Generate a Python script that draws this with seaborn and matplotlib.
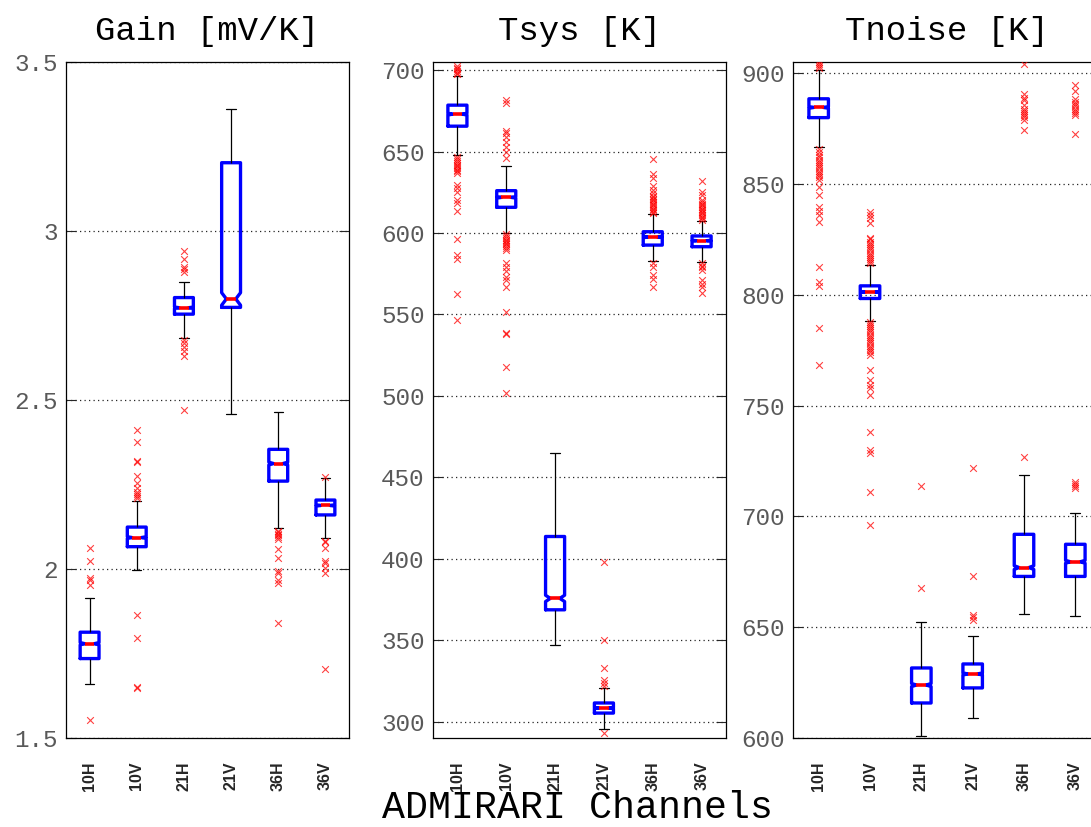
import numpy as np
import pandas as pd
import matplotlib
matplotlib.use("Agg")
import matplotlib.pyplot as plt
import seaborn as sns

channels = ["10H", "10V", "21H", "21V", "36H", "36V"]

# ---- Gain [mV/K] ----
gain_low = [1.661, 1.997, 2.682, 2.458, 2.122, 2.091]
gain_q1 = [1.735, 2.066, 2.754, 2.774, 2.260, 2.160]
gain_med = [1.779, 2.093, 2.773, 2.799, 2.312, 2.188]
gain_q3 = [1.813, 2.124, 2.803, 3.202, 2.354, 2.204]
gain_high = [1.914, 2.202, 2.850, 3.362, 2.464, 2.270]
gain_outliers = {
    "10H": [2.062, 2.023, 1.972, 1.968, 1.952, 1.552],
    "10V": [2.412, 2.375, 2.320, 2.316, 2.275, 2.253, 2.239, 2.229, 2.222,
            2.217, 2.209, 1.863, 1.795, 1.652, 1.649],
    "21H": [2.942, 2.916, 2.894, 2.888, 2.879, 2.678, 2.668, 2.658, 2.646,
            2.630, 2.470],
    "21V": [],
    "36H": [2.112, 2.108, 2.104, 2.100, 2.096, 2.090, 2.059, 2.033, 1.995,
            1.987, 1.967, 1.960, 1.839],
    "36V": [2.273, 2.084, 2.080, 2.061, 2.023, 2.017, 2.002, 1.989, 1.703],
}

# ---- Tsys [K] ----
tsys_low = [647.7, 600.2, 347.2, 295.7, 582.6, 582.0]
tsys_q1 = [665.6, 615.8, 368.7, 305.3, 592.6, 591.6]
tsys_med = [673.0, 621.9, 375.7, 308.4, 597.5, 595.3]
tsys_q3 = [678.5, 626.0, 413.7, 311.5, 600.8, 598.2]
tsys_high = [696.5, 641.1, 465.2, 320.9, 611.5, 607.4]
tsys_outliers = {
    "10H": [702.5, 701.5, 700.5, 699.5, 698.5, 697.5, 646.8, 645.5, 644.0,
            643.0, 642.0, 641.0, 640.0, 639.0, 638.0, 636.6, 629.4, 627.4,
            625.3, 620.2, 618.6, 613.7, 596.1, 586.5, 583.9, 562.4, 546.4],
    "10V": [681.6, 679.6, 662.8, 661.5, 659.1, 656.0, 653.0, 649.9, 645.8,
            599.5, 598.0, 597.0, 596.0, 595.0, 594.0, 593.0, 592.0, 591.0,
            589.6, 581.4, 579.3, 576.9, 573.2, 571.2, 567.1, 551.3, 538.8,
            537.8, 517.6, 501.6],
    "21H": [],
    "21V": [398.0, 350.3, 332.9, 325.8, 323.7, 322.1, 293.2],
    "36H": [645.2, 636.2, 633.6, 628.8, 626.4, 624.4, 623.0, 622.0, 621.0,
            620.0, 619.0, 618.0, 617.0, 616.0, 615.0, 614.0, 613.0, 612.1,
            581.4, 579.3, 574.0, 571.6, 566.7],
    "36V": [632.1, 625.3, 623.3, 620.2, 619.0, 618.0, 617.0, 616.0, 615.0,
            614.0, 613.0, 612.0, 611.0, 610.0, 609.0, 608.0, 581.4, 580.0,
            579.0, 577.3, 571.2, 568.7, 566.7, 563.0],
}

# ---- Tnoise [K] ----
tnoise_low = [866.7, 788.2, 600.8, 609.0, 655.9, 655.0]
tnoise_q1 = [879.9, 798.3, 615.8, 622.6, 672.9, 672.9]
tnoise_med = [884.5, 801.2, 623.9, 628.9, 676.9, 679.5]
tnoise_q3 = [888.4, 804.0, 631.6, 633.4, 691.9, 687.4]
tnoise_high = [901.2, 813.6, 652.4, 645.8, 718.7, 701.7]
tnoise_outliers = {
    "10H": [905.0, 904.0, 903.0, 902.3, 865.9, 864.5, 863.0, 862.0, 861.0,
            860.0, 859.0, 858.0, 857.0, 856.0, 855.0, 854.0, 853.1, 851.6,
            848.6, 844.9, 839.6, 837.8, 835.9, 832.8, 812.6, 805.8, 804.0,
            784.8, 768.3],
    "10V": [837.3, 835.9, 834.4, 832.4, 825.8, 825.0, 824.0, 823.0, 822.0,
            821.0, 820.0, 819.0, 818.0, 817.0, 816.0, 815.0, 814.1, 787.8,
            787.0, 786.0, 785.0, 784.0, 783.0, 782.0, 781.0, 780.0, 779.0,
            778.0, 777.0, 776.0, 775.0, 774.0, 772.8, 766.0, 761.5, 759.3,
            757.7, 754.7, 738.2, 730.0, 728.5, 710.9, 696.2],
    "21H": [713.9, 667.5],
    "21V": [721.7, 673.2, 655.6, 654.6, 653.4],
    "36H": [904.2, 890.7, 888.9, 887.7, 885.4, 884.0, 883.0, 882.0, 881.0,
            880.0, 878.7, 874.2, 726.9],
    "36V": [894.7, 891.9, 888.4, 887.0, 886.0, 885.0, 884.0, 883.0, 882.0,
            880.9, 872.7, 715.7, 714.5, 713.5, 712.7],
}

sns.set_theme(style="white")
plt.rcParams["font.family"] = ["Liberation Mono", "DejaVu Sans Mono"]

MONO = "Liberation Mono"
BLOCK = 440  # samples per quartile block -> notch height as for ~1300 measurements


def channel_samples(low, q1, med, q3, high):
    """Sample per channel whose quartiles and extremes are the given statistics."""
    rows = []
    for ch, lo, a, m, b, hi in zip(channels, low, q1, med, q3, high):
        vals = [lo] + [a] * BLOCK + [m] * BLOCK + [b] * BLOCK + [hi]
        rows.extend((ch, v) for v in vals)
    return pd.DataFrame(rows, columns=["channel", "value"])


def draw_panel(ax, title, stats, outliers, box_width, ylim, yticks, ytick_labels):
    core = channel_samples(*stats)
    sns.boxplot(
        data=core, x="channel", y="value", order=channels, ax=ax,
        whis=(0, 100), notch=True, showfliers=False, fill=False,
        width=box_width, linecolor="blue", linewidth=2.3,
        boxprops=dict(color="blue", linewidth=2.4),
        medianprops=dict(color="red", linewidth=2.6),
        whiskerprops=dict(color="black", linewidth=0.9),
        capprops=dict(color="black", linewidth=0.9),
    )
    out = pd.DataFrame(
        [(ch, v) for ch in channels for v in outliers[ch]],
        columns=["channel", "value"],
    )
    sns.stripplot(
        data=out, x="channel", y="value", order=channels, ax=ax,
        jitter=False, marker="x", color="red", size=4.8, linewidth=0.8,
        alpha=0.75,
    )
    ax.set_xlim(-0.5, 5.5)
    ax.set_ylim(*ylim)
    ax.set_yticks(yticks)
    ax.set_yticklabels(ytick_labels)
    ax.set_xlabel("")
    ax.set_ylabel("")
    ax.set_title(title, fontsize=24.5, family=MONO, pad=16, color="black")
    ax.yaxis.grid(True, linestyle=(0, (1, 2.6)), color="0.15", linewidth=0.9)
    ax.xaxis.grid(False)
    ax.tick_params(axis="y", direction="in", length=7, width=0.8,
                   left=True, right=True, labelsize=17.5, pad=6,
                   labelcolor="0.35", labelfontfamily=MONO)
    ax.tick_params(axis="x", length=0, pad=17, labelrotation=90,
                   labelsize=11.5, labelfontfamily="Liberation Sans")
    for lab in ax.get_xticklabels():
        lab.set_fontweight("bold")
    for sp in ax.spines.values():
        sp.set_visible(True)
        sp.set_color("black")
        sp.set_linewidth(0.9)


fig = plt.figure(figsize=(10.91, 8.27), dpi=100)
H = 827.0
W = 1091.0
bottom = (H - 738) / H
height = 676 / H
ax1 = fig.add_axes([66 / W, bottom, 283 / W, height])
ax2 = fig.add_axes([433 / W, bottom, 293 / W, height])
ax3 = fig.add_axes([793 / W, bottom, 308 / W, height])

draw_panel(ax1, "Gain [mV/K]",
           (gain_low, gain_q1, gain_med, gain_q3, gain_high), gain_outliers,
           0.40, (1.5, 3.5), [1.5, 2.0, 2.5, 3.0, 3.5],
           ["1.5", "2", "2.5", "3", "3.5"])
draw_panel(ax2, "Tsys [K]",
           (tsys_low, tsys_q1, tsys_med, tsys_q3, tsys_high), tsys_outliers,
           0.39, (290, 705), list(range(300, 701, 50)),
           [str(v) for v in range(300, 701, 50)])
draw_panel(ax3, "Tnoise [K]",
           (tnoise_low, tnoise_q1, tnoise_med, tnoise_q3, tnoise_high),
           tnoise_outliers,
           0.38, (600, 905), list(range(600, 901, 50)),
           [str(v) for v in range(600, 901, 50)])

fig.text(577 / W, 1 / H, "ADMIRARI Channels", family=MONO, fontsize=27.5,
         ha="center", va="bottom", color="black")

fig.savefig("out.png", dpi=100)
